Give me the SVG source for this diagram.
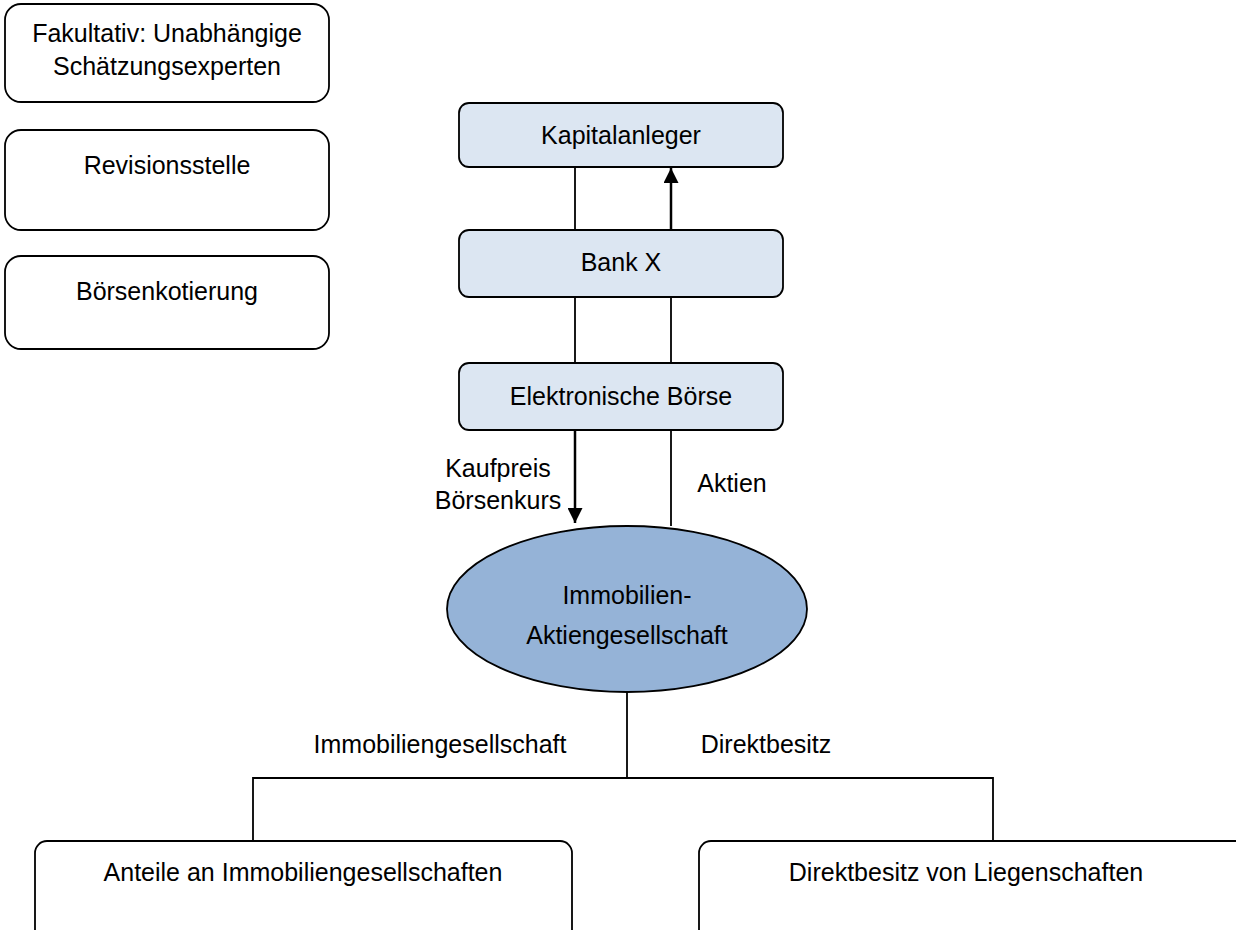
<svg xmlns="http://www.w3.org/2000/svg" width="1236" height="930" viewBox="0 0 1236 930">
<defs>
<style>
.box{fill:#ffffff;stroke:#000;stroke-width:1.8}
.blue{fill:#dce6f2;stroke:#000;stroke-width:1.8}
.ell{fill:#95b3d7;stroke:#000;stroke-width:1.8}
.ln{fill:none;stroke:#000;stroke-width:1.8}
.arr{fill:none;stroke:#000;stroke-width:2.5}
text{font-family:"Liberation Sans",Arial,sans-serif;font-size:25px;fill:#000}
.c{text-anchor:middle}
</style>
<marker id="ah" viewBox="0 0 10 10" refX="10" refY="5" markerWidth="6" markerHeight="6" markerUnits="strokeWidth" orient="auto">
<path d="M0,0 L10,5 L0,10 z" fill="#000"/>
</marker>
</defs>
<rect width="1236" height="930" fill="#fff"/>
<g id="connectors">
<line class="ln" x1="575" y1="167" x2="575" y2="230"/>
<line class="arr" x1="671" y1="230" x2="671" y2="168" marker-end="url(#ah)"/>
<line class="ln" x1="575" y1="297" x2="575" y2="363"/>
<line class="ln" x1="671" y1="297" x2="671" y2="363"/>
<line class="arr" x1="575" y1="430" x2="575" y2="523" marker-end="url(#ah)"/>
<line class="ln" x1="671" y1="430" x2="671" y2="526"/>
<polyline class="ln" points="627,692 627,778"/>
<polyline class="ln" points="253,841 253,778 993,778 993,841"/>
<text class="c" x="498" y="477">Kaufpreis</text>
<text class="c" x="498" y="509">Börsenkurs</text>
<text class="c" x="732" y="492">Aktien</text>
<text class="c" x="440" y="753">Immobiliengesellschaft</text>
<text class="c" x="766" y="753">Direktbesitz</text>
</g>
<g id="n-fakultativ">
<rect class="box" x="5" y="4" width="324" height="98" rx="16"/>
<text class="c" x="167" y="42">Fakultativ: Unabhängige</text>
<text class="c" x="167" y="75">Schätzungsexperten</text>
</g>
<g id="n-revision">
<rect class="box" x="5" y="130" width="324" height="100" rx="16"/>
<text class="c" x="167" y="174">Revisionsstelle</text>
</g>
<g id="n-boerse-kot">
<rect class="box" x="5" y="256" width="324" height="93" rx="16"/>
<text class="c" x="167" y="300">Börsenkotierung</text>
</g>
<g id="n-kapitalanleger">
<rect class="blue" x="459" y="103" width="324" height="64" rx="10"/>
<text class="c" x="621" y="144">Kapitalanleger</text>
</g>
<g id="n-bank">
<rect class="blue" x="459" y="230" width="324" height="67" rx="10"/>
<text class="c" x="621" y="271">Bank X</text>
</g>
<g id="n-elboerse">
<rect class="blue" x="459" y="363" width="324" height="67" rx="10"/>
<text class="c" x="621" y="405">Elektronische Börse</text>
</g>
<g id="n-immo-ag">
<ellipse class="ell" cx="627" cy="609" rx="180" ry="83"/>
<text class="c" x="627" y="604">Immobilien-</text>
<text class="c" x="627" y="644">Aktiengesellschaft</text>
</g>
<g id="n-anteile">
<rect class="box" x="35" y="841" width="537" height="110" rx="12"/>
<text class="c" x="303" y="881">Anteile an Immobiliengesellschaften</text>
</g>
<g id="n-direkt">
<rect class="box" x="699" y="841" width="560" height="110" rx="12"/>
<text class="c" x="966" y="881">Direktbesitz von Liegenschaften</text>
</g>
</svg>
